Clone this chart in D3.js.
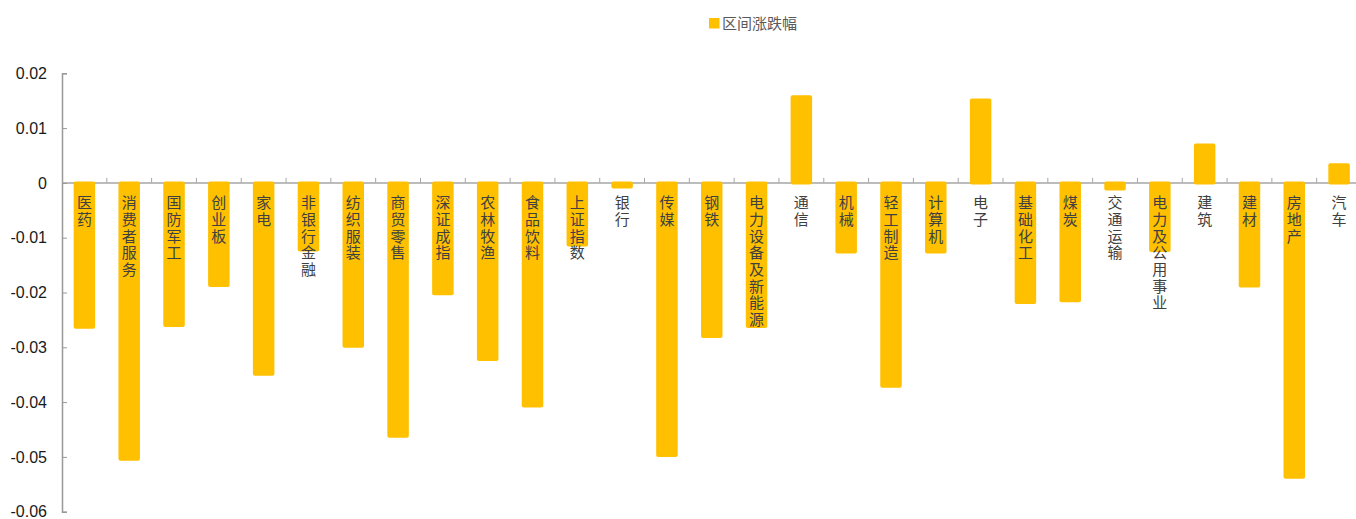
<!DOCTYPE html>
<html><head><meta charset="utf-8">
<script src="https://cdn.jsdelivr.net/npm/d3@7/dist/d3.min.js"></script>
<style>html,body{margin:0;padding:0;background:#fff;overflow:hidden}
.vlab{writing-mode:vertical-rl;text-orientation:upright;}</style>
</head><body>
<svg id="c" width="1356" height="519"></svg>
<script>
const categories = ["医药","消费者服务","国防军工","创业板","家电","非银行金融","纺织服装","商贸零售","深证成指","农林牧渔","食品饮料","上证指数","银行","传媒","钢铁","电力设备及新能源","通信","机械","轻工制造","计算机","电子","基础化工","煤炭","交通运输","电力及公用事业","建筑","建材","房地产","汽车"];
const values = [-0.0266,-0.0507,-0.0263,-0.0190,-0.0352,-0.0125,-0.0301,-0.0465,-0.0205,-0.0325,-0.0410,-0.0116,-0.0010,-0.0500,-0.0283,-0.0265,0.0160,-0.0129,-0.0374,-0.0129,0.0154,-0.0221,-0.0218,-0.0014,-0.0126,0.0072,-0.0191,-0.0540,0.0036];
const yTicks = [0.02,0.01,0,-0.01,-0.02,-0.03,-0.04,-0.05,-0.06];
const yTickLabels = ["0.02","0.01","0","-0.01","-0.02","-0.03","-0.04","-0.05","-0.06"];
const seriesName = "区间涨跌幅";

const svg = d3.select("#c");
const x0 = 62, bandW = 44.81;
const x = d3.scaleBand().domain(categories).range([x0, x0 + bandW*categories.length]).paddingInner(0.52).paddingOuter(0.26);
const xb = d3.scaleBand().domain(categories).range([x0, x0 + bandW*categories.length]);
const y = d3.scaleLinear().domain([-0.06, 0.02]).range([511.7, 73.3]);

// zero line
svg.append("line").attr("x1", x0).attr("x2", 1356).attr("y1", y(0)).attr("y2", y(0))
  .attr("stroke", "#A6A6A6").attr("stroke-width", 1.5);
// category ticks
svg.selectAll("line.ct").data(categories.slice(1)).join("line").attr("class","ct")
  .attr("x1", d => xb(d)).attr("x2", d => xb(d))
  .attr("y1", y(0)).attr("y2", y(0) - 5)
  .attr("stroke", "#A6A6A6").attr("stroke-width", 1);

// y axis
const yAxis = d3.axisRight(y).tickValues(yTicks).tickSize(5).tickFormat("");
const ga = svg.append("g").attr("transform", `translate(${x0},0)`).call(yAxis);
ga.select(".domain").attr("stroke", "#999").attr("stroke-width", 1.5);
ga.selectAll(".tick line").attr("stroke", "#999");
svg.selectAll("text.yl").data(yTicks).join("text").attr("class","yl")
  .attr("x", 47).attr("y", d => y(d)).attr("dy", "0.36em")
  .attr("text-anchor", "end").attr("font-family", "Liberation Sans, Arial, sans-serif")
  .attr("font-size", 16).attr("fill", "#1a1a1a")
  .text((d,i) => yTickLabels[i]);

// bars
svg.selectAll("rect.bar").data(values).join("rect").attr("class","bar")
  .attr("x", (d,i) => x(categories[i]))
  .attr("width", x.bandwidth())
  .attr("y", d => d >= 0 ? y(d) : y(0) - 1.5)
  .attr("height", d => Math.abs(y(d) - y(0)) + 1.5)
  .attr("rx", 2).attr("fill", "#FFC000");

// vertical labels
svg.selectAll("text.vlab").data(categories).join("text").attr("class","vlab")
  .attr("x", d => xb(d) + xb.bandwidth()/2)
  .attr("y", 195)
  .attr("font-family", "Noto Sans CJK SC, sans-serif").attr("font-size", 15)
  .attr("letter-spacing", 1.7)
  .attr("fill", "#404040").text(d => d);

// legend
svg.append("rect").attr("x", 709).attr("y", 18).attr("width", 10.5).attr("height", 10.5).attr("fill", "#FFC000");
svg.append("text").attr("x", 722).attr("y", 23.5).attr("dy", "0.35em")
  .attr("font-family", "Noto Sans CJK SC, sans-serif").attr("font-size", 15)
  .attr("fill", "#595959").text(seriesName);
</script>
</body></html>
